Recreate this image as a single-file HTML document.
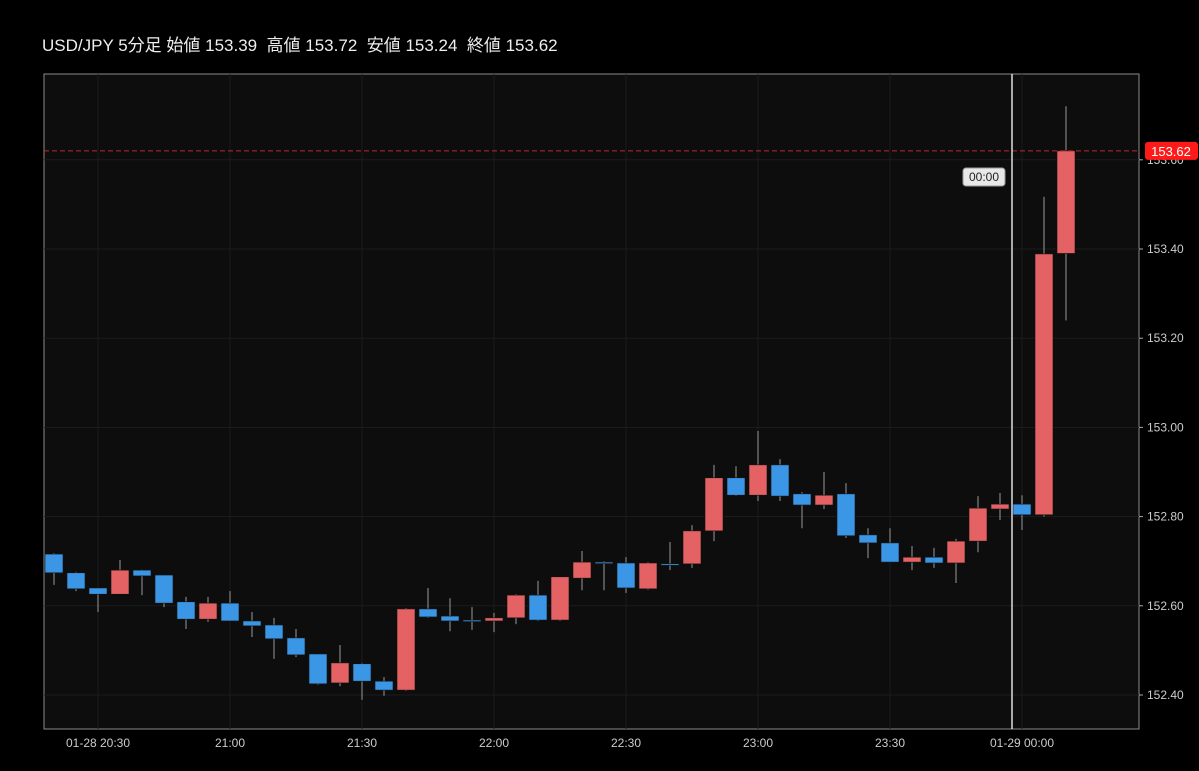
<!DOCTYPE html>
<html><head><meta charset="utf-8"><style>
html,body{margin:0;padding:0;background:#000;width:1199px;height:771px;overflow:hidden}
svg{display:block}
text{font-family:"Liberation Sans","Noto Sans CJK JP",sans-serif}
</style></head><body>
<svg id="chart" width="1199" height="771">
<text x="42" y="51" fill="#eee" font-size="17">USD/JPY 5分足 始値 153.39&#160;&#160;高値 153.72&#160;&#160;安値 153.24&#160;&#160;終値 153.62</text>
<rect x="44" y="74" width="1095" height="655" fill="#0d0d0d" stroke="#8a8a8a" stroke-width="1"/>
<g id="grid"></g><g id="candles"></g><g id="axes"></g>
</svg>
<script>
const open_=[152.716,152.674,152.640,152.626,152.680,152.669,152.609,152.570,152.606,152.566,152.557,152.528,152.492,152.427,152.470,152.431,152.411,152.593,152.577,152.568,152.566,152.573,152.624,152.568,152.662,152.698,152.696,152.638,152.694,152.694,152.768,152.887,152.848,152.916,152.851,152.826,152.851,152.759,152.741,152.698,152.709,152.696,152.745,152.817,152.828,152.804,153.39];
const high_=[152.718,152.676,152.640,152.703,152.681,152.669,152.620,152.620,152.633,152.586,152.573,152.548,152.492,152.512,152.472,152.440,152.595,152.640,152.617,152.597,152.584,152.626,152.656,152.665,152.723,152.700,152.709,152.698,152.743,152.781,152.916,152.913,152.992,152.929,152.855,152.900,152.875,152.774,152.774,152.734,152.730,152.750,152.846,152.853,152.848,153.517,153.72];
const low_=[152.647,152.633,152.586,152.626,152.624,152.597,152.548,152.564,152.566,152.530,152.481,152.485,152.423,152.420,152.389,152.398,152.409,152.573,152.543,152.546,152.541,152.559,152.566,152.566,152.635,152.635,152.629,152.636,152.680,152.685,152.745,152.846,152.835,152.835,152.774,152.817,152.752,152.707,152.698,152.680,152.685,152.651,152.720,152.792,152.770,152.800,153.24];
const close_=[152.674,152.638,152.626,152.680,152.667,152.606,152.570,152.606,152.566,152.555,152.526,152.490,152.425,152.472,152.431,152.411,152.593,152.575,152.566,152.566,152.573,152.624,152.568,152.665,152.698,152.696,152.640,152.696,152.692,152.768,152.887,152.848,152.916,152.846,152.826,152.848,152.757,152.741,152.698,152.709,152.696,152.745,152.819,152.828,152.804,153.389,153.62];
const yTicks=[152.40,152.60,152.80,153.00,153.20,153.40,153.60];
const xTickIdx=[2,8,14,20,26,32,38,44];
const xTickLabels=["01-28 20:30","21:00","21:30","22:00","22:30","23:00","23:30","01-29 00:00"];
const lastPrice=153.62;
const NS="http://www.w3.org/2000/svg";
const y=p=>695-(p-152.40)*446;
const x=i=>54+22*i;
function mk(tag,attrs,parent){const e=document.createElementNS(NS,tag);for(const k in attrs)e.setAttribute(k,attrs[k]);parent.appendChild(e);return e;}
const grid=document.getElementById('grid'),cg=document.getElementById('candles'),ax=document.getElementById('axes');
yTicks.forEach(t=>{
 const l=mk('line',{x1:44,x2:1139,y1:y(t),y2:y(t),stroke:'#1c1c1c','stroke-width':1},grid);
 
 
 mk('line',{x1:1139,x2:1143,y1:y(t),y2:y(t),stroke:'#aaa'},ax);
 const tx=mk('text',{x:1147,y:y(t)+4,fill:'#ccc','font-size':12},ax);tx.textContent=t.toFixed(2);
 
 
});
xTickIdx.forEach((idx,k)=>{
 const l=mk('line',{x1:x(idx),x2:x(idx),y1:74,y2:729,stroke:'#1c1c1c','stroke-width':1},grid);
 
 
 const tx=mk('text',{x:x(idx),y:747,fill:'#ccc','font-size':12,'text-anchor':'middle'},ax);tx.textContent=xTickLabels[k];
 
 
});
for(let i=0;i<open_.length;i++){
 const up=close_[i]>=open_[i];const col=up?'#e46264':'#3b97e6';
 const g=mk('g',{},cg);
 
 
 mk('line',{x1:x(i),x2:x(i),y1:y(high_[i]),y2:y(low_[i]),stroke:'#999','stroke-width':1},g);
 const t=y(Math.max(open_[i],close_[i])),b=y(Math.min(open_[i],close_[i]));
 mk('rect',{x:x(i)-9,y:t,width:18,height:Math.max(1.5,b-t),fill:col,stroke:'#111','stroke-width':0.6},g);
}
const pl=mk('line',{x1:44,x2:1139,y1:y(lastPrice),y2:y(lastPrice),stroke:'#c0282a','stroke-dasharray':'5,3'},ax);


const pr=mk('rect',{x:1145,y:y(lastPrice)-9,width:53,height:18,rx:3,fill:'#ff1a1a'},ax);


const pt=mk('text',{x:1171,y:y(lastPrice)+5,fill:'#fff','font-size':13,'text-anchor':'middle'},ax);pt.textContent=lastPrice.toFixed(2);


const ch=mk('line',{x1:1012,x2:1012,y1:74,y2:729,stroke:'#ddd','stroke-width':1.5},ax);


const tb=mk('rect',{x:963,y:168,width:42,height:18,rx:3,fill:'#e8e8e8',stroke:'#999'},ax);


const tt=mk('text',{x:984,y:181,fill:'#222','font-size':12,'text-anchor':'middle'},ax);tt.textContent='00:00';


</script>
</body></html>
